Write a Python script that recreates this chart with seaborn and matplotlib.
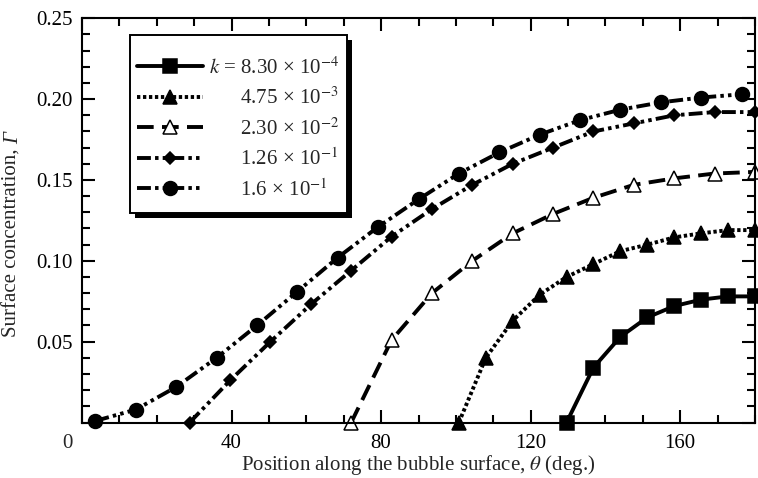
import matplotlib
matplotlib.use("Agg")
import matplotlib.pyplot as plt
from matplotlib.patches import Rectangle
from matplotlib.ticker import FixedLocator, MultipleLocator
from matplotlib.transforms import IdentityTransform
import seaborn as sns

# ---------------- data ----------------
theta_a = [129.6, 136.8, 144.0, 151.2, 158.4, 165.6, 172.8, 180.0]
gamma_a = [0.000, 0.034, 0.053, 0.065, 0.072, 0.076, 0.078, 0.078]

theta_b = [100.8, 108.0, 115.2, 122.4, 129.6, 136.8, 144.0, 151.2, 158.4, 165.6, 172.8, 180.0]
gamma_b = [0.000, 0.040, 0.063, 0.079, 0.090, 0.098, 0.106, 0.110, 0.1145, 0.117, 0.119, 0.119]

theta_c = [72.0, 82.8, 93.6, 104.4, 115.2, 126.0, 136.8, 147.6, 158.4, 169.2, 180.0]
gamma_c = [0.000, 0.051, 0.080, 0.100, 0.117, 0.129, 0.139, 0.147, 0.151, 0.154, 0.155]

theta_d = [28.8, 39.6, 50.4, 61.2, 72.0, 82.8, 93.6, 104.4, 115.2, 126.0, 136.8, 147.6, 158.4, 169.2, 180.0]
gamma_d = [0.000, 0.026, 0.050, 0.073, 0.094, 0.115, 0.132, 0.147, 0.160, 0.170, 0.180, 0.185, 0.190, 0.192, 0.192]

theta_e = [3.6, 14.4, 25.2, 36.0, 46.8, 57.6, 68.4, 79.2, 90.0, 100.8, 111.6, 122.4, 133.2, 144.0, 154.8, 165.6, 176.4]
gamma_e = [0.001, 0.008, 0.022, 0.040, 0.060, 0.081, 0.102, 0.121, 0.138, 0.154, 0.167, 0.178, 0.187, 0.1935, 0.198, 0.201, 0.203]

series_labels = [
    r"$k$ = 8.30 × 10$^{-4}$",
    "      4.75 × 10$^{-3}$",
    "      2.30 × 10$^{-2}$",
    "      1.26 × 10$^{-1}$",
    "      1.6 × 10$^{-1}$",
]

x_ticks = [0, 40, 80, 120, 160]
x_ticklabels = ["", "40", "80", "120", "160"]
y_ticks = [0, 0.05, 0.10, 0.15, 0.20, 0.25]
y_ticklabels = ["", "0.05", "0.10", "0.15", "0.20", "0.25"]

# ---------------- style ----------------
sns.set_style("ticks")
plt.rcParams["font.family"] = ["Liberation Serif", "DejaVu Serif"]
plt.rcParams["mathtext.fontset"] = "stix"
plt.rcParams["lines.scale_dashes"] = False
FS = 15

W, H = 758, 478
fig = plt.figure(figsize=(W / 100, H / 100), dpi=100)
L, R, T, B = 82, 755, 18.3, 422.5
ax = fig.add_axes([L / W, (H - B) / H, (R - L) / W, (B - T) / H])

lw = 2.8
styles = [
    dict(marker="s", markersize=9.5, linestyle="-", markerfacecolor="k"),
    dict(marker="^", markersize=9.5, linestyle=(0, (2.4, 1.9)), markerfacecolor="k"),
    dict(marker="^", markersize=10, linestyle=(0, (12, 6)), markerfacecolor="white"),
    dict(marker="D", markersize=6.4, linestyle=(0, (10, 3, 2.5, 3, 2.5, 3)), markerfacecolor="k"),
    dict(marker="o", markersize=10, linestyle=(0, (10, 3, 2.5, 3, 2.5, 3)), markerfacecolor="k"),
]
datasets = [(theta_a, gamma_a), (theta_b, gamma_b), (theta_c, gamma_c),
            (theta_d, gamma_d), (theta_e, gamma_e)]

for (xs, ys), st, lab in zip(datasets, styles, series_labels):
    sns.lineplot(x=xs, y=ys, ax=ax, color="k", linewidth=lw,
                 markeredgecolor="k", markeredgewidth=1.1,
                 dash_capstyle="butt", label=lab, clip_on=False, **st)

ax.set_xlim(0, 180)
ax.set_ylim(0, 0.25)
ax.xaxis.set_major_locator(FixedLocator(x_ticks))
ax.set_xticklabels(x_ticklabels)
ax.xaxis.set_minor_locator(MultipleLocator(10))
ax.yaxis.set_major_locator(FixedLocator(y_ticks))
ax.set_yticklabels(y_ticklabels)
ax.yaxis.set_minor_locator(MultipleLocator(0.01))

ax.tick_params(which="both", direction="in", top=True, right=True,
               width=1.5, colors="k", labelsize=FS)
ax.tick_params(which="major", length=9.5)
ax.tick_params(which="minor", length=5.5)
ax.tick_params(axis="x", which="major", pad=8)
ax.tick_params(axis="y", which="major", pad=7)
for s in ax.spines.values():
    s.set_linewidth(1.5)
    s.set_color("k")
    s.set_visible(True)

ax.set_xlabel(r"Position along the bubble surface, $\theta$ (deg.)", fontsize=FS, labelpad=0.5)
ylab = ax.set_ylabel("Surface concentration, ", fontsize=FS)
ax.yaxis.set_label_coords((22 - L) / (R - L), (B - 240) / (B - T))
ax.annotate("0", xy=(0, 0), xycoords="axes fraction", xytext=(-6.5, -8),
            textcoords="offset points", ha="right", va="top", fontsize=FS)

# legend box with black drop shadow
def px_to_axes(px, py):
    return ((px - L) / (R - L), (B - py) / (B - T))

bx0, by0 = px_to_axes(130, 213)
bx1, by1 = px_to_axes(347, 35)
sx, sy = 5 / (R - L), 5 / (B - T)
ax.add_patch(Rectangle((bx0 + sx, by0 - sy), bx1 - bx0, by1 - by0, transform=ax.transAxes,
                       facecolor="k", edgecolor="k", lw=0, zorder=3, clip_on=False))
ax.add_patch(Rectangle((bx0, by0), bx1 - bx0, by1 - by0, transform=ax.transAxes,
                       facecolor="white", edgecolor="k", lw=1.4, zorder=3.1, clip_on=False))

handles, labels = ax.get_legend_handles_labels()
anchor = px_to_axes(137, 57)
leg = ax.legend(handles, labels, loc="upper left", bbox_to_anchor=anchor,
                frameon=False, borderpad=0, borderaxespad=0, fontsize=FS,
                handlelength=3.17, handletextpad=0.3, labelspacing=0.43, numpoints=1)
leg.set_zorder(5)

# italic Gamma appended to the y label
fig.canvas.draw()
bb = ylab.get_window_extent()
fig.text(bb.x0 + bb.width / 2 + 1, bb.y1 - 1, "Γ", rotation=90, ha="center", va="bottom",
         fontsize=FS, style="italic", transform=IdentityTransform())

fig.savefig("out.png", dpi=100)
